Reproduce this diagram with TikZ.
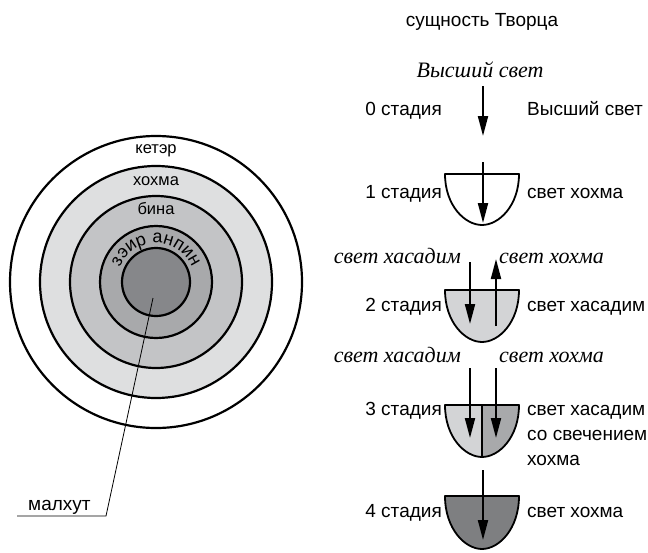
\documentclass[tikz,border=0pt]{standalone}
\usepackage{fontspec}
\setmainfont{Liberation Sans}
\newfontfamily\kursiv{Liberation Serif}
\usetikzlibrary{arrows.meta,decorations.text}
\definecolor{ton1}{HTML}{DEDFE0}
\definecolor{ton2}{HTML}{C3C4C6}
\definecolor{ton3}{HTML}{A8A9AB}
\definecolor{ton4}{HTML}{86878A}
\definecolor{ton5}{HTML}{D3D4D6}
\definecolor{ton6}{HTML}{7E7F81}
\tikzset{
  krug/.style={draw=black, line width=2.2pt},
  chasha/.style={draw=black, line width=1.8pt, line join=round},
  strelka/.style={line width=2pt, -{Triangle[length=20pt, width=10pt]}},
  vynoska/.style={line width=0.8pt},
  podpis/.style={anchor=base, inner sep=0pt, font=\fontsize{19}{22}\selectfont},
  kursivpodpis/.style={anchor=base, inner sep=0pt, font=\kursiv\itshape\fontsize{22}{24}\selectfont},
  sloj/.style={anchor=base, inner sep=0pt, font=\fontsize{16.5}{18}\selectfont},
}
% chasha: #1 = verh, #2 = niz
\newcommand{\chashaput}[2]{(445,#1) .. controls (445,{#1+0.62*(#2-#1)}) and (465,#2) .. (482,#2)
  .. controls (499,#2) and (519,{#1+0.62*(#2-#1)}) .. (519,#1) -- cycle}

\begin{document}
\begin{tikzpicture}[x=1pt, y=-1pt]
  \useasboundingbox[fill=white] (0,0) rectangle (648,552);

  % ---------------- sfiry ----------------
  \coordinate (centr) at (156,282);
  \fill[white] (centr) circle[radius=146];
  \fill[ton1] (centr) circle[radius=116];
  \fill[ton2] (centr) circle[radius=86];
  \fill[ton3] (centr) circle[radius=56];
  \fill[ton4] (centr) circle[radius=34];
  \foreach \r in {146,116,86,56,34} { \draw[krug] (centr) circle[radius=\r]; }
  \node[sloj] (keter) at (156,153) {кетэр};
  \node[sloj] (hohma) at (156,185) {хохма};
  \node[sloj] (bina) at (156,214) {бина};
  \path[decorate, decoration={text along path, text align=center,
      text={|\fontsize{18}{18}\selectfont|зэир анпин}}]
    (centr) ++(-170:39) arc[start angle=-170, end angle=-10, radius=39];

  % ---------------- malhut ----------------
  \coordinate (malhutkonec) at (153,298);
  \coordinate (malhutizgib) at (106,516);
  \coordinate (malhutnachalo) at (17,516);
  \draw[vynoska] (malhutkonec) -- (malhutizgib) -- (malhutnachalo);
  \node[podpis, anchor=base west] (malhut) at (28,510) {малхут};

  % ---------------- stadii ----------------
  \node[podpis] (sushchnost) at (482,26) {сущность Творца};
  \node[kursivpodpis] (vysshij) at (480,77) {Высший свет};

  % 0 stadia
  \node[podpis, anchor=base east] (st0) at (442,115) {0 стадия};
  \node[podpis, anchor=base west] (sv0) at (527,115) {Высший свет};
  \coordinate (a0) at (483,86);  \coordinate (b0) at (483,136);
  \draw[strelka] (a0) -- (b0);

  % 1 stadia
  \draw[chasha, fill=white] \chashaput{174}{225};
  \node[podpis, anchor=base east] (st1) at (442,198) {1 стадия};
  \node[podpis, anchor=base west] (sv1) at (527,198) {свет хохма};
  \coordinate (a1) at (483,162); \coordinate (b1) at (483,223);
  \draw[strelka] (a1) -- (b1);

  % 2 stadia
  \node[kursivpodpis, anchor=base east] (hs2) at (461,263) {свет хасадим};
  \node[kursivpodpis, anchor=base west] (hh2) at (499,263) {свет хохма};
  \draw[chasha, fill=ton5] \chashaput{290}{342};
  \node[podpis, anchor=base east] (st2) at (442,311) {2 стадия};
  \node[podpis, anchor=base west] (sv2) at (527,311) {свет хасадим};
  \coordinate (a2) at (470,262); \coordinate (b2) at (470,324);
  \coordinate (c2) at (496,326); \coordinate (d2) at (496,259);
  \draw[strelka] (a2) -- (b2);
  \draw[strelka] (c2) -- (d2);

  % 3 stadia
  \node[kursivpodpis, anchor=base east] (hs3) at (461,362) {свет хасадим};
  \node[kursivpodpis, anchor=base west] (hh3) at (499,362) {свет хохма};
  \fill[ton5] (482,405) -- (445,405) .. controls (445,437) and (465,457) .. (482,457) -- cycle;
  \fill[ton3] (482,405) -- (519,405) .. controls (519,437) and (499,457) .. (482,457) -- cycle;
  \draw[chasha] \chashaput{405}{457};
  \draw[line width=1.2pt] (482,405) -- (482,457);
  \node[podpis, anchor=base east] (st3) at (442,415) {3 стадия};
  \node[podpis, anchor=base west] (sv3a) at (527,415) {свет хасадим};
  \node[podpis, anchor=base west] (sv3b) at (527,440) {со свечением};
  \node[podpis, anchor=base west] (sv3c) at (527,465) {хохма};
  \coordinate (a3) at (470,368); \coordinate (b3) at (470,438);
  \coordinate (c3) at (496,368); \coordinate (d3) at (496,438);
  \draw[strelka] (a3) -- (b3);
  \draw[strelka] (c3) -- (d3);

  % 4 stadia
  \draw[chasha, fill=ton6] \chashaput{496}{549};
  \node[podpis, anchor=base east] (st4) at (442,517) {4 стадия};
  \node[podpis, anchor=base west] (sv4) at (527,517) {свет хохма};
  \coordinate (a4) at (483,470); \coordinate (b4) at (483,540);
  \draw[strelka] (a4) -- (b4);
\end{tikzpicture}
\end{document}
